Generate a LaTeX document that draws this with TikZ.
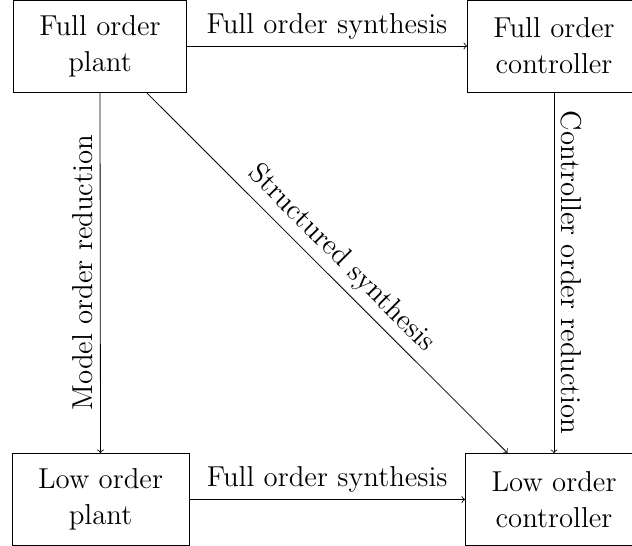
\documentclass[tikz,border=0pt]{standalone}
\begin{document}
\begin{tikzpicture}[x=0.5pt,y=-0.5pt,
  box/.style={draw, align=center, font=\Large, inner xsep=13pt, minimum height=46pt},
  lab/.style={font=\Large},
  every path/.style={line width=0.4pt}]
\useasboundingbox (0,0) rectangle (632,546);
\node[box] (fp) at (100,46) {Full order\\plant};
\node[box] (fc) at (554,46) {Full order\\controller};
\node[box] (lp) at (100.5,499.5) {Low order\\plant};
\node[box] (lc) at (554,499.5) {Low order\\controller};
\draw[->] (fp) -- node[lab, midway, above] {Full order synthesis} (fc);
\draw[->] (lp) -- node[lab, midway, above] {Full order synthesis} (lc);
\draw[->] (fp.south) -- node[lab, midway, anchor=south, rotate=90] {Model order reduction} (lp.north);
\draw[->] (fc.south) -- node[lab, midway, anchor=south, rotate=-90] {Controller order reduction} (lc.north);
\draw[->] (fp) -- node[lab, midway, anchor=south, rotate=-45] {Structured synthesis} (lc);
\end{tikzpicture}
\end{document}
